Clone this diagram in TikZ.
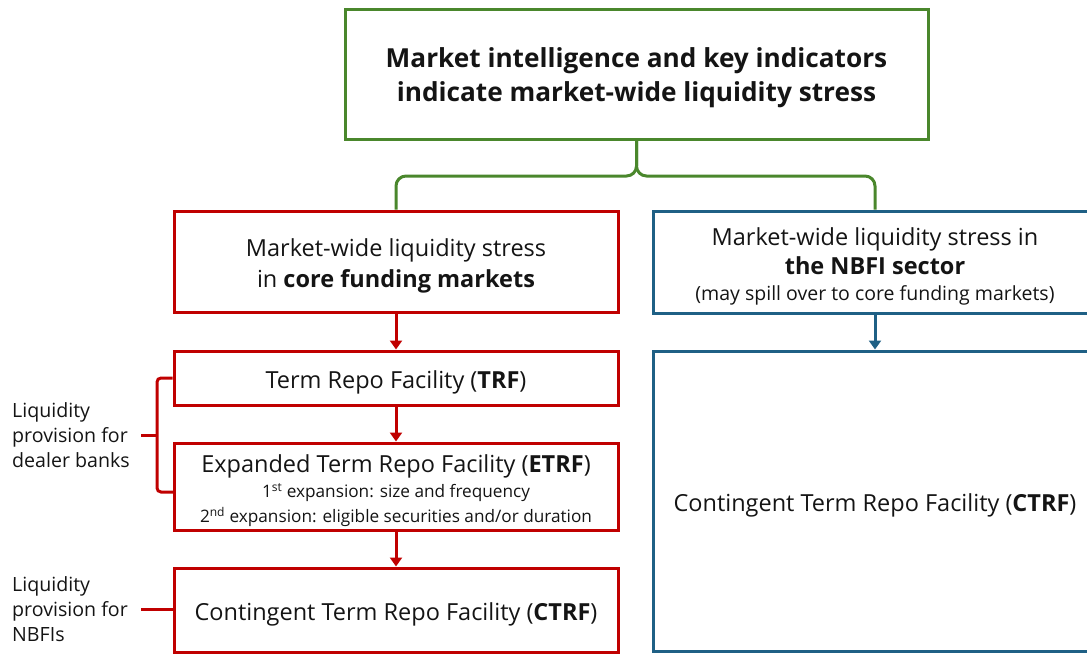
\documentclass[tikz,border=0pt]{standalone}
\usepackage{fontspec}
\setmainfont{Open Sans}
\usetikzlibrary{arrows.meta}
\definecolor{stressgreen}{RGB}{74,135,44}
\definecolor{corered}{RGB}{192,0,0}
\definecolor{nbfiblue}{RGB}{31,96,133}
\definecolor{ink}{RGB}{20,20,20}
\newcommand{\fs}[2]{\fontsize{#1}{#2}\selectfont}
% extra height on the first line lowers the centred text block a little
\newcommand{\lowerstrut}{\rule{0pt}{\dimexpr0.76em+8pt\relax}}
\begin{document}
\begin{tikzpicture}[x=1pt,y=-1pt,
  box/.style={draw, line width=3pt, minimum width=444pt, inner sep=0pt,
              align=center, text=ink},
  greenbox/.style={box, draw=stressgreen},
  redbox/.style={box, draw=corered},
  bluebox/.style={box, draw=nbfiblue},
  flow/.style={line width=3pt, -{Triangle[width=12pt,length=9pt]}},
  branch/.style={draw=stressgreen, line width=3pt, rounded corners=10pt},
  bracket/.style={draw=corered, line width=3pt},
  sidenote/.style={anchor=north west, align=left, inner sep=0pt, text=ink,
                   font=\fs{19.6}{25}}
]
\useasboundingbox (0,0) rectangle (1087,654);
\clip (0,0) rectangle (1087,654);

% trigger
\node[greenbox, minimum width=583pt, minimum height=130pt, font=\bfseries\fs{26.2}{34}]
  (top) at (636.5,74) {\lowerstrut Market intelligence and key indicators\\indicate market-wide liquidity stress};

% core funding markets branch
\node[redbox, minimum height=101pt, font=\fs{23.5}{31}] (core) at (396,261.5)
  {\lowerstrut Market-wide liquidity stress\\in \textbf{core funding markets}};
\node[redbox, minimum height=54pt, font=\fs{23.5}{26}] (trf) at (396,378)
  {\lowerstrut Term Repo Facility (\textbf{TRF})};
\node[redbox, minimum height=87pt, font=\fs{23.5}{26}] (etrf) at (396,486.5)
  {\lowerstrut Expanded Term Repo Facility (\textbf{ETRF})\\[-1pt]
   {\fs{17.2}{21}1\textsuperscript{st} expansion: size and frequency}\\[-1pt]
   {\fs{17.2}{21}2\textsuperscript{nd} expansion: eligible securities and/or duration}};
\node[redbox, minimum height=84pt, font=\fs{23.5}{26}] (ctrfa) at (396,610)
  {\lowerstrut Contingent Term Repo Facility (\textbf{CTRF})};

% NBFI branch
\node[bluebox, minimum height=102pt, font=\fs{23.5}{29}] (nbfi) at (875,262)
  {\lowerstrut Market-wide liquidity stress in\\\textbf{the NBFI sector}\\[-3pt]
   {\fs{19.5}{24}(may spill over to core funding markets)}};
\node[bluebox, minimum height=300pt, font=\fs{23.5}{26}] (ctrfb) at (875,501)
  {\lowerstrut Contingent Term Repo Facility (\textbf{CTRF})};

% split from the trigger box
\draw[branch] (top.south) -- (top.south |- 0,176) -| (core.north);
\draw[branch] (top.south) -- (top.south |- 0,176) -| (nbfi.north);

% escalation arrows
\draw[flow, draw=corered, fill=corered] (core.south) -- (trf.north);
\draw[flow, draw=corered, fill=corered] (trf.south) -- (etrf.north);
\draw[flow, draw=corered, fill=corered] (etrf.south) -- (ctrfa.north);
\draw[flow, draw=nbfiblue, fill=nbfiblue] (nbfi.south) -- (ctrfb.north);

% side notes and their brackets
\node[sidenote] (dealer) at (12,402) {Liquidity\\provision for\\dealer banks};
\node[sidenote] (nbfis) at (12,576) {Liquidity\\provision for\\NBFIs};

\coordinate (btop) at (trf.west);
\coordinate (bbot) at (174,492);
\coordinate (bmid) at (157,435);
\coordinate (btick) at (141,435);
\coordinate (ntick) at (141,609);
\draw[bracket, rounded corners=4pt] (btop) -- (157,378) -- (157,492) -- (bbot);
\draw[bracket] (btick) -- (bmid);
\draw[bracket] (ntick) -- (ctrfa.west |- ntick);
\end{tikzpicture}
\end{document}
